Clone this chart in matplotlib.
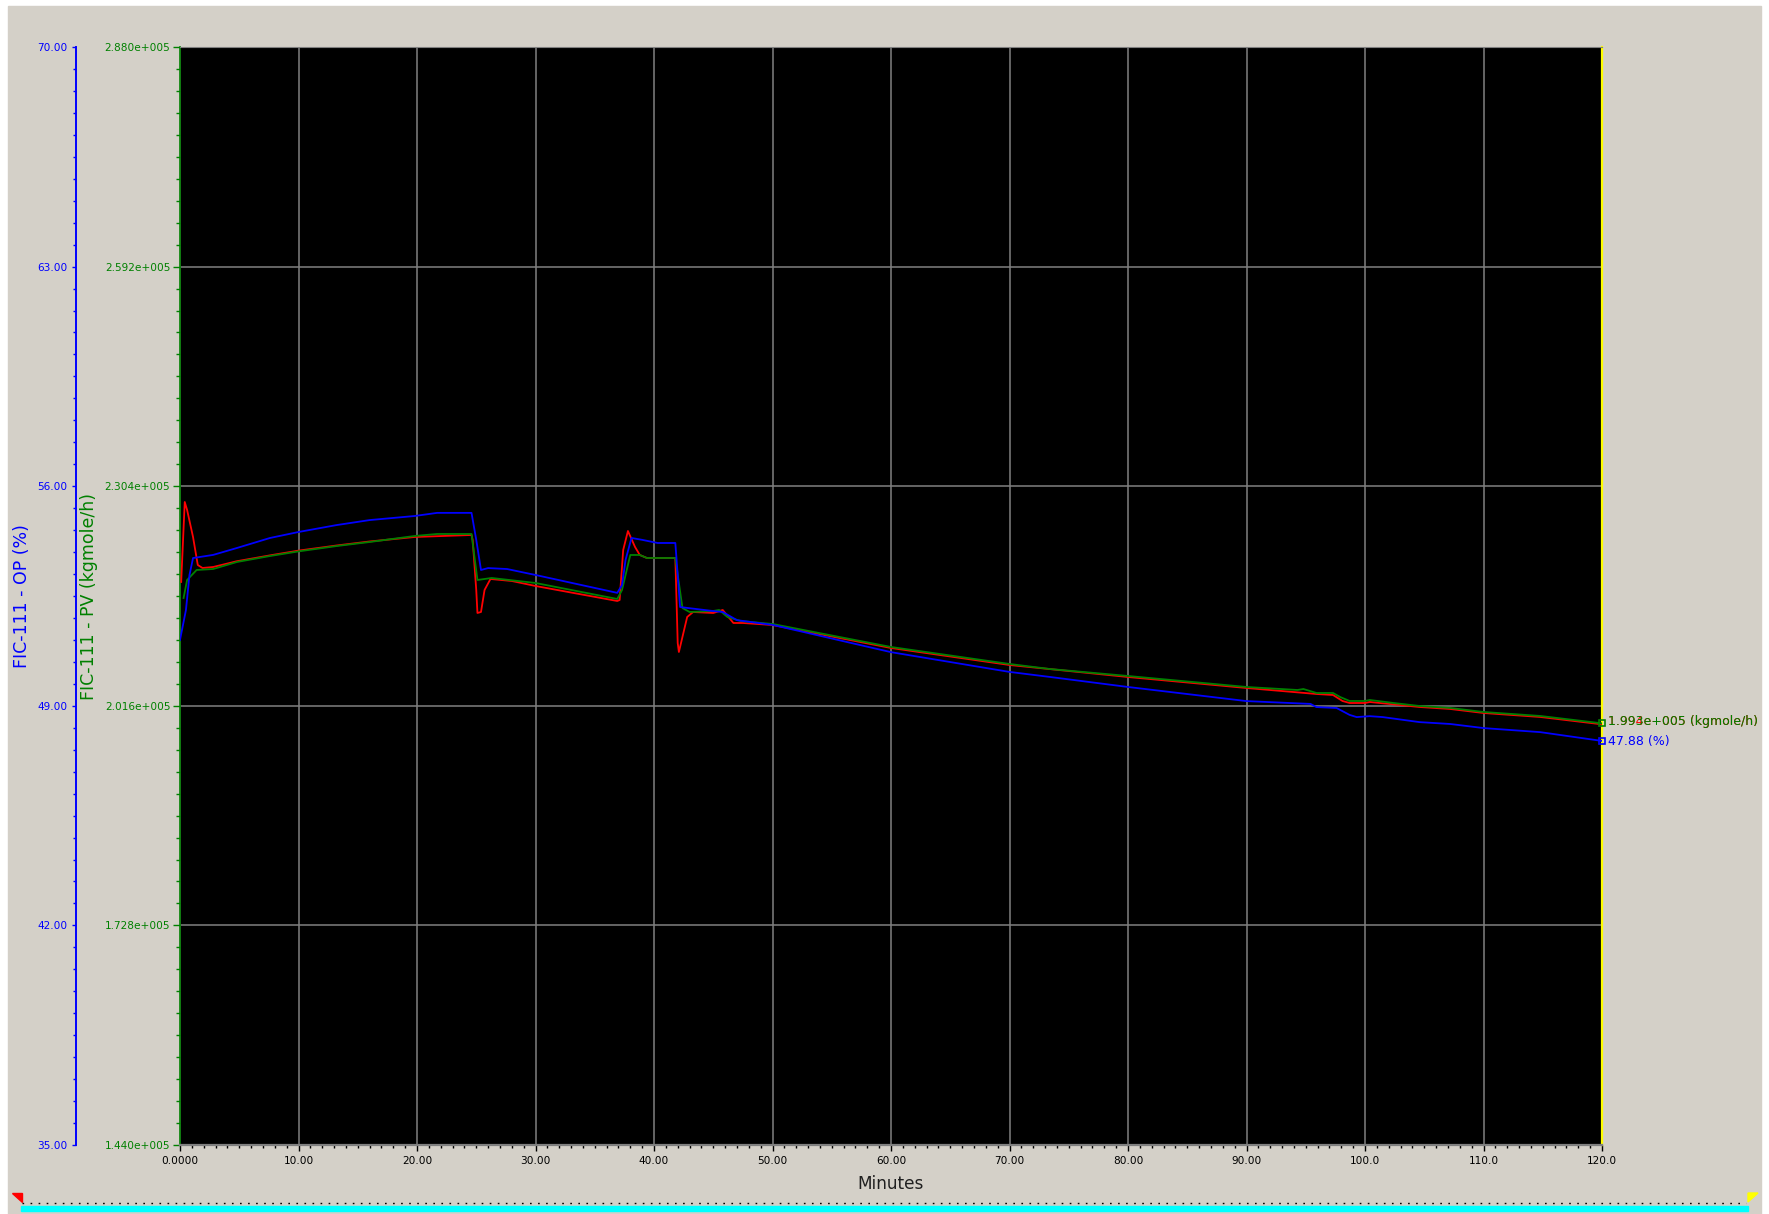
import numpy as np
import matplotlib
matplotlib.use("Agg")
import matplotlib.pyplot as plt
from matplotlib.patches import Rectangle, Polygon
from matplotlib.ticker import FixedLocator, MultipleLocator

# FIC-111 OP (%), blue, left outer axis
op_t = [0.0, 0.5, 0.8, 1.1, 2.8, 4.8, 7.6, 10.0, 13.2, 16.0, 19.8, 21.7, 24.6, 25.0, 25.4,
        26.0, 27.6, 30.0, 36.9, 37.3, 37.6, 38.1, 39.0, 40.3, 41.8, 42.2, 42.8, 45.0, 45.8,
        47.0, 50.0, 60.0, 70.0, 73.4, 80.0, 90.0, 95.4, 95.9, 97.6, 98.7, 99.3, 100.4,
        101.5, 104.6, 107.2, 110.0, 114.8, 120.0]
op_val = [51.10, 52.05, 53.17, 53.71, 53.81, 54.03, 54.35, 54.54, 54.76, 54.92, 55.05, 55.15,
          55.15, 54.29, 53.33, 53.39, 53.36, 53.17, 52.60, 52.85, 53.65, 54.35, 54.29, 54.19,
          54.19, 52.15, 52.12, 52.02, 51.99, 51.73, 51.58, 50.71, 50.08, 49.92, 49.60, 49.15,
          49.06, 48.96, 48.93, 48.71, 48.64, 48.67, 48.64, 48.48, 48.42, 48.29, 48.16, 47.88]

# FIC-111 PV (kgmole/h), green, inner axis
pv_t = [0.3, 0.6, 1.4, 2.8, 4.8, 7.6, 10.0, 13.2, 16.0, 19.8, 21.7, 24.6, 25.1, 26.3, 30.0,
        36.9, 37.3, 38.0, 38.8, 39.4, 41.8, 42.4, 43.0, 45.0, 45.5, 46.2, 47.3, 50.0, 60.0,
        70.0, 73.4, 80.0, 90.0, 94.3, 94.8, 95.9, 97.3, 97.9, 98.7, 100.0, 100.4, 102.4,
        104.6, 107.2, 110.0, 114.8, 120.0]
pv_val = [215739, 218100, 219411, 219542, 220460, 221247, 221850, 222550, 223083, 223870,
          224133, 224133, 218100, 218363, 217706, 215608, 216788, 221379, 221379, 220986,
          220986, 214428, 213903, 214034, 214165, 213247, 212723, 212329, 209313, 207083,
          206427, 205509, 204067, 203673, 203804, 203280, 203280, 202755, 202231, 202231,
          202362, 201968, 201575, 201313, 200788, 200264, 199300]

# red trace, same scale as PV
red_t = [0.1, 0.4, 0.6, 1.1, 1.5, 1.9, 2.8, 4.8, 7.6, 10.0, 13.2, 16.0, 19.8, 24.6, 24.7,
         25.0, 25.1, 25.4, 25.7, 26.2, 28.0, 30.0, 36.9, 37.1, 37.4, 37.8, 38.4, 38.8, 39.4,
         41.8, 41.9, 42.0, 42.1, 42.4, 42.8, 43.3, 45.0, 45.8, 46.7, 47.5, 50.0, 60.0, 70.0,
         80.0, 90.0, 95.9, 97.3, 98.1, 98.7, 100.0, 100.4, 104.6, 107.2, 110.0, 114.8, 120.0]
red_val = [217838, 228329, 227280, 223738, 220067, 219673, 219804, 220560, 221330, 221950,
           222620, 223150, 223739, 224002, 223345, 216788, 213772, 213903, 216788, 218231,
           217969, 217312, 215346, 215477, 222034, 224526, 222428, 221379, 220986, 220986,
           215477, 209837, 208657, 210624, 213247, 213903, 213772, 214165, 212461, 212461,
           212198, 209182, 206952, 205378, 203936, 203149, 203018, 202231, 201968, 201968,
           202100, 201444, 201182, 200657, 200133, 199169]

x_ticks = [0, 10, 20, 30, 40, 50, 60, 70, 80, 90, 100, 110, 120]
x_ticklabels = ["0.0000", "10.00", "20.00", "30.00", "40.00", "50.00", "60.00",
                "70.00", "80.00", "90.00", "100.0", "110.0", "120.0"]
pv_ticks = [144000, 172800, 201600, 230400, 259200, 288000]
pv_ticklabels = ["1.440e+005", "1.728e+005", "2.016e+005", "2.304e+005", "2.592e+005", "2.880e+005"]
op_ticks = [35, 42, 49, 56, 63, 70]
op_ticklabels = ["35.00", "42.00", "49.00", "56.00", "63.00", "70.00"]

pv_end_label = "1.993e+005 (kgmole/h)"
red_end_label = "1.994e+005 (kgmole/h)"
op_end_label = "47.88 (%)"

# ========= STYLE =========
W, H = 1769, 1214
PANEL = "#d4d0c8"
GREEN = "#008000"
BLUE = "#0000ff"
RED = "#ff0000"
GRID = "#808080"
TICK_FS = 7.6

plt.rcParams["font.family"] = ["DejaVu Sans"]


def fx(px):
    return px / W


def fy(py):
    return 1 - py / H


fig = plt.figure(figsize=(W / 100, H / 100), dpi=100, facecolor="white")

# ---- window background / scrollbar ----
bg = fig.add_axes([0, 0, 1, 1])
bg.set_xlim(0, W)
bg.set_ylim(H, 0)
bg.axis("off")
bg.add_patch(Rectangle((8, 6), 1753, 1210, color=PANEL))
bg.add_patch(Rectangle((21, 1206), 1727, 5, color="#00ffff"))
bg.plot([22, 1746], [1203, 1203], color="black", lw=1.0, linestyle=(0, (1.2, 4.6)))
bg.add_patch(Polygon([(12, 1193), (22, 1193), (22, 1202)], color="red"))
bg.add_patch(Polygon([(1748, 1193), (1758, 1193), (1748, 1202)], color="yellow"))

# ---- main axes (PV, green) ----
left, right, top, bottom = 180, 1602, 47, 1145
ax = fig.add_axes([fx(left), fy(bottom), fx(right - left), (bottom - top) / H])
ax.set_facecolor("black")
ax.set_xlim(0, 120)
ax.set_ylim(144000, 288000)

ax.spines["left"].set_color(GREEN)
ax.spines["left"].set_linewidth(1.2)
ax.spines["right"].set_color("yellow")
ax.spines["right"].set_linewidth(1.6)
ax.spines["top"].set_color(GRID)
ax.spines["bottom"].set_color(GRID)
ax.spines["bottom"].set_linewidth(1.6)

ax.xaxis.set_major_locator(FixedLocator(x_ticks))
ax.set_xticklabels(x_ticklabels)
ax.xaxis.set_minor_locator(MultipleLocator(1))
ax.tick_params(axis="x", which="major", length=4, width=1, color="black",
               labelsize=TICK_FS, labelcolor="black", pad=4)
ax.tick_params(axis="x", which="minor", length=2, width=1, color="black")

ax.yaxis.set_major_locator(FixedLocator(pv_ticks))
ax.set_yticklabels(pv_ticklabels)
ax.yaxis.set_minor_locator(MultipleLocator(2880))
ax.tick_params(axis="y", which="major", length=5, width=1, color=GREEN,
               labelsize=TICK_FS, labelcolor=GREEN, pad=2)
ax.tick_params(axis="y", which="minor", length=3, width=1, color=GREEN)

ax.grid(True, which="major", color=GRID, linewidth=1.1)
ax.set_axisbelow(True)

ax.plot(red_t, red_val, color=RED, linewidth=1.3, zorder=3)
ax.plot(pv_t, pv_val, color=GREEN, linewidth=1.3, zorder=4)
ax.plot([120], [pv_val[-1]], marker="s", markersize=4, mfc="none", mec=GREEN,
        mew=1.2, clip_on=False, zorder=6)

# ---- outer axis (OP, blue) ----
ax_op = ax.twinx()
ax_op.set_ylim(35, 70)
for s in ["right", "top", "bottom"]:
    ax_op.spines[s].set_visible(False)
ax_op.spines["left"].set_position(("axes", (76 - left) / (right - left)))
ax_op.spines["left"].set_color(BLUE)
ax_op.spines["left"].set_linewidth(1.4)
ax_op.yaxis.tick_left()
ax_op.yaxis.set_major_locator(FixedLocator(op_ticks))
ax_op.set_yticklabels(op_ticklabels)
ax_op.yaxis.set_minor_locator(FixedLocator(np.arange(35, 70.01, 0.7)))
ax_op.tick_params(axis="y", which="major", length=3, width=1, color=BLUE,
                  labelsize=TICK_FS, labelcolor=BLUE, pad=3)
ax_op.tick_params(axis="y", which="minor", length=2, width=1, color=BLUE)

ax_op.plot(op_t, op_val, color=BLUE, linewidth=1.3, zorder=3)
ax_op.plot([120], [op_val[-1]], marker="s", markersize=4, mfc="none", mec=BLUE,
           mew=1.2, clip_on=False, zorder=6)

# ---- labels ----
fig.text(fx(22), fy(596), "FIC-111 - OP (%)", color=BLUE, fontsize=12.5,
         rotation=90, ha="center", va="center")
fig.text(fx(89), fy(596), "FIC-111 - PV (kgmole/h)", color=GREEN, fontsize=12.5,
         rotation=90, ha="center", va="center")
fig.text(fx(891), fy(1184), "Minutes", color="#202020", fontsize=12.2,
         ha="center", va="center")

fig.text(fx(1608), fy(722), red_end_label, color=RED, fontsize=9, ha="left", va="center")
fig.text(fx(1608), fy(722), pv_end_label, color=GREEN, fontsize=9, ha="left", va="center")
fig.text(fx(1608), fy(741), op_end_label, color=BLUE, fontsize=9, ha="left", va="center")

fig.savefig("out.png", dpi=100, facecolor=fig.get_facecolor())
